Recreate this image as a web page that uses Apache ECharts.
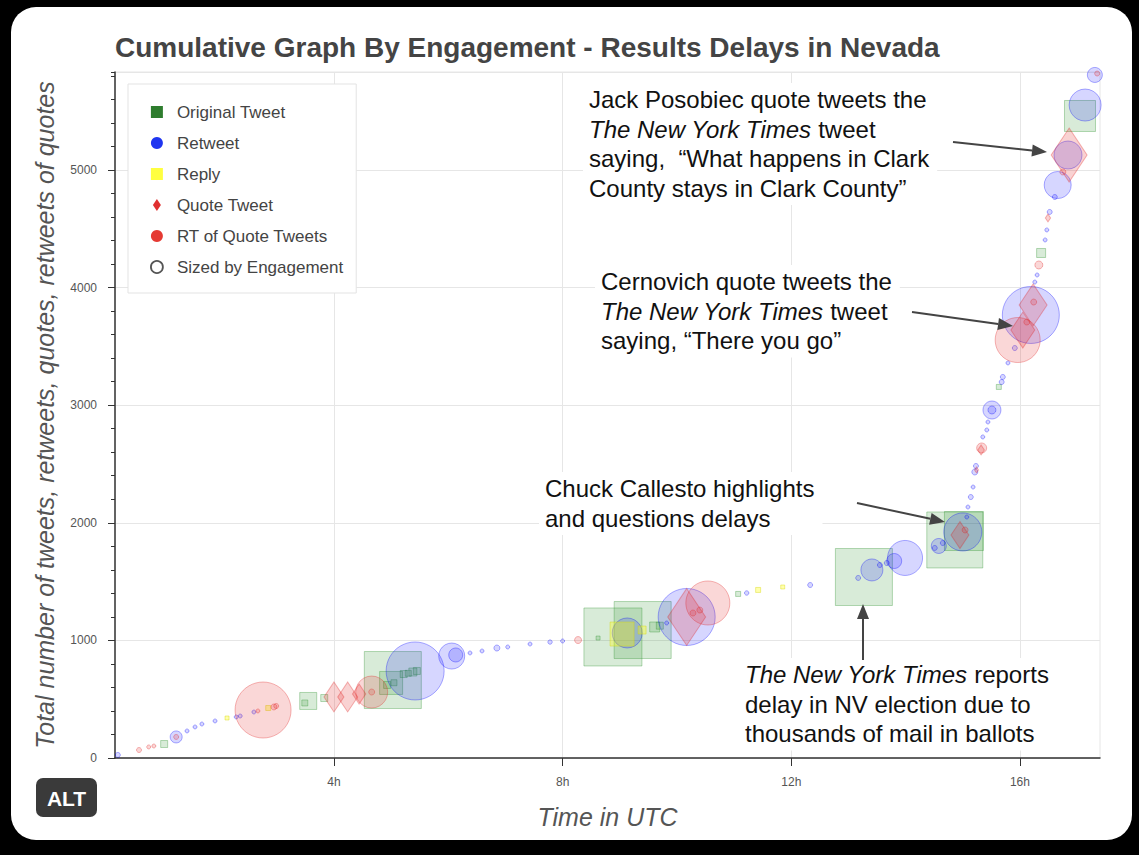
<!DOCTYPE html>
<html><head><meta charset="utf-8">
<script src="https://cdn.jsdelivr.net/npm/echarts@6/dist/echarts.min.js"></script>
<style>
html,body{margin:0;padding:0;background:#000;width:1139px;height:855px;overflow:hidden;}
#card{position:absolute;left:11px;top:7px;width:1121px;height:833px;background:#fff;border-radius:25px;}
#chart{position:absolute;left:0;top:0;width:1139px;height:855px;}
</style></head><body>
<div id="card"></div>
<div id="chart"></div>
<script>
// ---- data: [hour (UTC), cumulative count, engagement] ----
const xTickHours = [4, 8, 12, 16];
const yMax = 5833;

const originalTweets = [
  [1.03,119,16],[3.49,468,9],[3.55,485,196],[3.83,510,16],[4.93,621,16],[5.00,638,400],
  [5.03,663,2916],[5.05,640,9],[5.22,714,16],[5.30,720,9],[5.38,731,25],[5.45,740,16],
  [8.62,1020,1],[8.88,1029,3025],[9.40,1088,2916],[9.61,1114,49],[9.70,1125,16],[11.07,1395,4],
  [13.27,1539,2916],[14.86,1854,2809],[15.02,1930,1296],[15.63,3155,4],[16.37,4294,36],
  [17.05,5459,784]
];
const retweets = [
  [0.22,26,4],[1.24,179,81],[1.43,230,1],[1.57,264,1],[1.69,289,1],[1.92,315,1],[2.29,349,1],
  [2.36,357,1],[2.60,391,1],[5.42,740,3025],[6.06,867,529],[6.13,876,121],[6.38,893,1],
  [6.59,910,1],[6.85,935,9],[7.04,944,1],[7.43,969,1],[7.78,986,2],[8.00,995,1],[9.13,1063,729],
  [9.82,1148,1],[10.17,1199,2916],[11.22,1403,2],[12.33,1471,4],[13.17,1531,4],
  [13.41,1599,361],[13.55,1641,4],[13.67,1658,4],[13.80,1675,144],[13.99,1701,1024],
  [14.51,1786,4],[14.58,1803,144],[14.65,1828,4],[15.00,1922,1225],[15.07,2049,1],
  [15.09,2134,1],[15.14,2219,4],[15.18,2304,1],[15.21,2432,9],[15.23,2483,4],[15.35,2730,1],
  [15.42,2789,1],[15.44,2857,1],[15.51,2959,225],[15.51,2959,25],[15.68,3197,4],[15.70,3240,4],
  [15.79,3359,1],[15.91,3486,4],[16.19,3767,2916],[16.26,4047,1],[16.30,4107,1],[16.44,4405,1],
  [16.47,4490,1],[16.52,4643,4],[16.61,4770,4],[16.66,4872,576],[16.84,5127,625],
  [17.14,5552,841],[17.31,5808,144]
];
const replies = [
  [2.13,340,1],[2.85,425,4],[9.04,1054,441],[9.39,1088,25],[11.42,1429,4],[11.85,1454,1]
];
const quoteTweets = [
  [4.00,519,729],[4.24,519,729],[4.44,544,289],[10.17,1199,2916],[14.95,1896,576],
  [15.24,2449,9],[15.32,2619,49],[16.05,3639,1089],[16.23,3852,1521],[16.49,4592,25],
  [16.86,5127,2601]
];
const rtOfQuotes = [
  [0.59,68,4],[0.76,94,1],[0.85,102,1],[1.24,179,4],[2.67,400,1],[2.76,408,2809],[2.95,434,9],
  [2.99,442,4],[4.66,561,841],[4.66,561,9],[8.27,1003,16],[10.28,1233,9],[10.40,1258,9],
  [10.54,1318,1681],[15.04,1939,9],[15.33,2636,49],[15.96,3554,1764],[16.12,3707,9],
  [16.24,3877,9],[16.33,4192,25],[16.75,4983,9],[17.35,5820,4]
];

// ---- rendering ----
const FONT = "'Liberation Sans', Arial, Helvetica, sans-serif";
const diam = eng => 3 + Math.sqrt(eng);

function mk(name, data, symbol, fill, stroke, diamond) {
  return {
    name, type: 'scatter', data, symbol,
    symbolSize: v => diamond ? [diam(v[2]) / 1.5, diam(v[2])] : diam(v[2]),
    itemStyle: { color: fill, borderColor: stroke, borderWidth: 1 },
    emphasis: { disabled: true }, silent: true
  };
}

function arrow(x1, y1, x2, y2) {
  const L = 15, W = 6;
  const dx = x2 - x1, dy = y2 - y1, len = Math.hypot(dx, dy);
  const ux = dx / len, uy = dy / len;
  const bx = x2 - ux * L, by = y2 - uy * L;
  return [
    { type: 'line', z: 101, shape: { x1, y1, x2: bx, y2: by }, style: { stroke: '#444', lineWidth: 2 }, silent: true },
    { type: 'polygon', z: 101, shape: { points: [[x2, y2], [bx - uy * W, by + ux * W], [bx + uy * W, by - ux * W]] },
      style: { fill: '#444' }, silent: true }
  ];
}

function note(x, y, text) {
  return {
    type: 'text', x, y, silent: true, z: 100,
    style: {
      text, fill: '#111', fontSize: 24, fontFamily: FONT, lineHeight: 29.5,
      verticalAlign: 'top', align: 'left',
      backgroundColor: '#fff', padding: [2, 8, 2, 6],
      rich: { i: { fontStyle: 'italic', fontSize: 24, fontFamily: FONT, lineHeight: 29.5, fill: '#111' } }
    }
  };
}

const chart = echarts.init(document.getElementById('chart'), null, { renderer: 'svg' });
chart.setOption({
  backgroundColor: 'transparent',
  animation: false,
  title: {
    text: 'Cumulative Graph By Engagement - Results Delays in Nevada',
    left: 115, top: 33, padding: 0,
    textStyle: { fontFamily: FONT, fontWeight: 'bold', fontSize: 28, color: '#444' }
  },
  grid: { left: 115, right: 39, top: 72, bottom: 97, show: true, borderColor: '#e6e6e6', borderWidth: 1,
          outerBoundsMode: 'none', containLabel: false },
  xAxis: {
    type: 'value', min: 0.17, max: 17.4,
    name: 'Time in UTC', nameLocation: 'middle', nameGap: 46,
    nameTextStyle: { fontFamily: FONT, fontStyle: 'italic', fontSize: 25, color: '#555' },
    axisLine: { onZero: false, lineStyle: { color: '#333', width: 1.5 } },
    axisTick: { show: true, customValues: xTickHours, length: 8, lineStyle: { color: '#333' } },
    axisLabel: { customValues: xTickHours, formatter: v => v + 'h', fontFamily: FONT, fontSize: 12, color: '#555', margin: 18 },
    splitLine: { show: true, lineStyle: { color: '#e6e6e6' } }
  },
  yAxis: [{
    type: 'value', min: 0, max: yMax, interval: 1000,
    name: 'Total number of tweets, retweets, quotes, retweets of quotes',
    nameLocation: 'middle', nameGap: 58,
    nameTextStyle: { fontFamily: FONT, fontStyle: 'italic', fontSize: 25, color: '#555' },
    axisLine: { show: true, lineStyle: { color: '#333', width: 1.5 } },
    axisTick: { show: true, length: 7, lineStyle: { color: '#333' } },
    axisLabel: { formatter: v => String(v), fontFamily: FONT, fontSize: 12, color: '#555', margin: 18, showMaxLabel: false },
    splitLine: { show: true, lineStyle: { color: '#e6e6e6' } }
  }, {
    type: 'value', min: 0, max: yMax, interval: 200, position: 'left',
    axisLine: { show: false }, axisTick: { show: true, length: 4, lineStyle: { color: '#333' } },
    axisLabel: { show: false }, splitLine: { show: false }
  }],
  legend: {
    orient: 'vertical', left: 128, top: 84,
    padding: [18, 13, 16, 22],
    itemWidth: 12, itemHeight: 12, itemGap: 11,
    backgroundColor: '#fff', borderColor: '#e3e3e3', borderWidth: 1,
    selectedMode: false,
    textStyle: { fontFamily: FONT, fontSize: 17, color: '#444', lineHeight: 20, padding: [0, 0, 0, 9] },
    data: [
      { name: 'Original Tweet', icon: 'rect', itemStyle: { color: '#2e7d2e', borderWidth: 0, opacity: 1 } },
      { name: 'Retweet', icon: 'circle', itemStyle: { color: '#1f35f0', borderWidth: 0, opacity: 1 } },
      { name: 'Reply', icon: 'rect', itemStyle: { color: '#ffff40', borderWidth: 0, opacity: 1 } },
      { name: 'Quote Tweet', icon: 'path://M5,0 L10,7.5 L5,15 L0,7.5 Z', itemStyle: { color: '#e03030', borderWidth: 0, opacity: 1 } },
      { name: 'RT of Quote Tweets', icon: 'circle', itemStyle: { color: '#e53a33', borderWidth: 0, opacity: 1 } },
      { name: 'Sized by Engagement', icon: 'circle', itemStyle: { color: '#fff', borderColor: '#555', borderWidth: 1.8, opacity: 1 } }
    ]
  },
  series: [
    mk('Original Tweet', originalTweets, 'rect', 'rgba(34,139,34,0.22)', 'rgba(34,139,34,0.4)', false),
    mk('Retweet', retweets, 'circle', 'rgba(0,0,255,0.2)', 'rgba(0,0,255,0.4)', false),
    mk('Reply', replies, 'rect', 'rgba(255,255,0,0.4)', 'rgba(215,215,0,0.5)', false),
    mk('Quote Tweet', quoteTweets, 'diamond', 'rgba(225,30,30,0.25)', 'rgba(225,30,30,0.4)', true),
    mk('RT of Quote Tweets', rtOfQuotes, 'circle', 'rgba(225,30,30,0.22)', 'rgba(225,30,30,0.4)', false),
    { name: 'Sized by Engagement', type: 'scatter', data: [] }
  ],
  graphic: [
    note(583, 83, 'Jack Posobiec quote tweets the\n{i|The New York Times} tweet\nsaying,  \u201CWhat happens in Clark\nCounty stays in Clark County\u201D'),
    note(595, 265, 'Cernovich quote tweets the\n{i|The New York Times} tweet\nsaying, \u201CThere you go\u201D'),
    note(539, 472, 'Chuck Callesto highlights\nand questions delays'),
    note(739, 658, '{i|The New York Times} reports\ndelay in NV election due to\nthousands of mail in ballots'),
    ...arrow(953, 142, 1047, 152),
    ...arrow(912, 312, 1013, 326),
    ...arrow(857, 503, 945, 522),
    ...arrow(863, 660, 863, 604),
    { type: 'rect', shape: { x: 36, y: 778, width: 61, height: 39, r: 7 }, style: { fill: '#3a3a3a' }, silent: true },
    { type: 'text', x: 66.5, y: 798, silent: true,
      style: { text: 'ALT', fill: '#fff', fontFamily: FONT, fontWeight: 'bold', fontSize: 21, align: 'center', verticalAlign: 'middle' } }
  ]
});
</script>
</body></html>
